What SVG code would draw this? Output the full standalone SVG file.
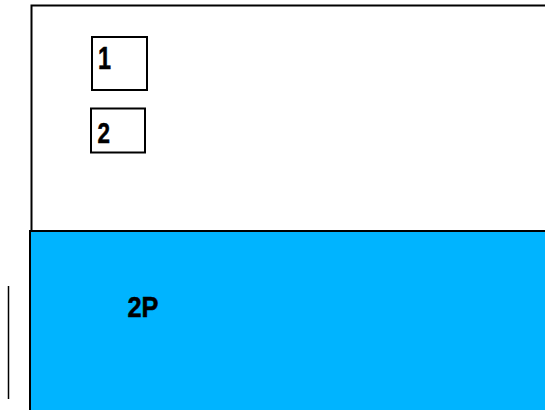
<svg xmlns="http://www.w3.org/2000/svg" width="545" height="410" viewBox="0 0 545 410">
<style>
.t{font-family:"Liberation Sans",Arial,sans-serif;font-weight:bold;fill:#000;stroke:#000;stroke-width:0.5}
.b{fill:#fff;stroke:#000;stroke-width:2}
</style>
<rect x="0" y="0" width="545" height="410" fill="#fff"/>
<g id="top-area"><rect x="31.5" y="5.5" width="530" height="240" fill="#fff" stroke="#000" stroke-width="2"/></g>
<g id="node-1"><rect class="b" x="92" y="37" width="55" height="53"/><text class="t" x="98" y="68.5" font-size="31" textLength="13" lengthAdjust="spacingAndGlyphs">1</text></g>
<g id="node-2"><rect class="b" x="91" y="108.5" width="54" height="44"/><text class="t" x="97.5" y="143" font-size="29" textLength="12.5" lengthAdjust="spacingAndGlyphs">2</text></g>
<g id="node-2P"><rect x="30" y="231" width="530" height="200" fill="#00B4FF" stroke="#000" stroke-width="2"/><text class="t" x="127.5" y="317" font-size="29" textLength="31" lengthAdjust="spacingAndGlyphs">2P</text></g>
<g id="connectors"><line x1="8.5" y1="286" x2="8.5" y2="399" stroke="#000" stroke-width="1.5"/></g>
</svg>
